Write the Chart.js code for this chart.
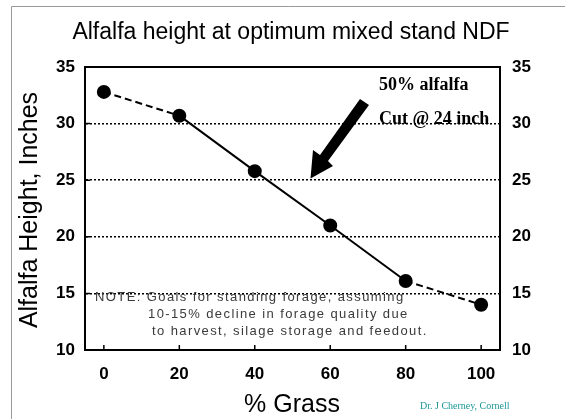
<!DOCTYPE html>
<html>
<head>
<meta charset="utf-8">
<script src="https://cdn.jsdelivr.net/npm/chart.js@4"></script>
<style>
  html, body { margin: 0; padding: 0; background: #fff; }
  #wrap { width: 565px; height: 419px; }
</style>
</head>
<body>
<div id="wrap"><canvas id="chart" width="565" height="419"></canvas></div>
<script>
// data
const grassPct = [0, 20, 40, 60, 80, 100];
const alfalfaHeight = [32.8, 30.7, 25.8, 21.0, 16.1, 14.0];
const xTicks = [0, 20, 40, 60, 80, 100];
const yTicks = [10, 15, 20, 25, 30, 35];
const dashedSegments = [0, 4]; // first and last segment are dashed

const tickFont = { family: "Liberation Sans", size: 17, weight: "bold" };

// extra drawing: titles, notes, arrow, frame, inner tick marks
const decorations = {
  id: "decorations",
  afterDraw(chart) {
    const ctx = chart.ctx;
    const area = chart.chartArea;
    const x = chart.scales.x;
    const y = chart.scales.y;
    ctx.save();

    // slide frame (top + left)
    ctx.strokeStyle = "#999";
    ctx.lineWidth = 1;
    ctx.beginPath();
    ctx.moveTo(11.5, 419);
    ctx.lineTo(11.5, 6.5);
    ctx.lineTo(565, 6.5);
    ctx.stroke();

    // top border of the plot box
    ctx.strokeStyle = "#000";
    ctx.lineWidth = 2;
    ctx.beginPath();
    ctx.moveTo(area.left - 1, area.top);
    ctx.lineTo(area.right + 1, area.top);
    ctx.stroke();

    // inner tick marks
    ctx.lineWidth = 1.5;
    ctx.beginPath();
    xTicks.forEach((v) => {
      const px = x.getPixelForValue(v);
      ctx.moveTo(px, area.bottom);
      ctx.lineTo(px, area.bottom - 5);
    });
    yTicks.slice(1, -1).forEach((v) => {
      const py = y.getPixelForValue(v);
      ctx.moveTo(area.left, py);
      ctx.lineTo(area.left + 5, py);
    });
    ctx.stroke();

    // titles
    ctx.fillStyle = "#000";
    ctx.textAlign = "center";
    ctx.textBaseline = "middle";
    ctx.font = "23px 'Liberation Sans'";
    ctx.fillText("Alfalfa height at optimum mixed stand NDF", 291, 33);
    ctx.font = "25px 'Liberation Sans'";
    ctx.fillText("% Grass", 292, 405);
    ctx.save();
    ctx.translate(30, 210);
    ctx.rotate(-Math.PI / 2);
    ctx.font = "25px 'Liberation Sans'";
    ctx.fillText("Alfalfa Height, Inches", 0, 0);
    ctx.restore();

    // annotation text
    ctx.textAlign = "left";
    ctx.font = "bold 18px 'Liberation Serif'";
    ctx.fillText("50% alfalfa", 379, 85);
    ctx.fillText("Cut @ 24 inch", 379, 119);

    // arrow
    ctx.beginPath();
    ctx.moveTo(369, 105);
    ctx.lineTo(360, 99);
    ctx.lineTo(320, 155);
    ctx.lineTo(313, 150);
    ctx.lineTo(310.5, 178.5);
    ctx.lineTo(333, 166);
    ctx.lineTo(328, 161);
    ctx.closePath();
    ctx.fill();

    // note
    ctx.fillStyle = "#3a3a3a";
    ctx.font = "13px 'Liberation Sans'";
    ctx.letterSpacing = "1.4px";
    ctx.fillText("NOTE: Goals for standing forage, assuming", 95, 297);
    ctx.fillText("10-15% decline in forage quality due", 148, 314);
    ctx.fillText("to harvest, silage storage and feedout.", 152, 331);
    ctx.letterSpacing = "0px";

    // credit
    ctx.fillStyle = "#1a9696";
    ctx.font = "10px 'Liberation Serif'";
    ctx.fillText("Dr. J Cherney, Cornell", 420, 406);

    ctx.restore();
  },
};

const gridColor = (c) =>
  c.tick && (c.tick.value === 10 || c.tick.value === 35) ? "rgba(0,0,0,0)" : "#000";

new Chart(document.getElementById("chart").getContext("2d"), {
  type: "line",
  data: {
    datasets: [
      {
        data: grassPct.map((g, i) => ({ x: g, y: alfalfaHeight[i] })),
        borderColor: "#000",
        backgroundColor: "#000",
        borderWidth: 2,
        pointRadius: 6,
        pointBackgroundColor: "#000",
        tension: 0,
        segment: {
          borderDash: (c) => (dashedSegments.includes(c.p0DataIndex) ? [7, 4] : undefined),
        },
      },
    ],
  },
  options: {
    responsive: false,
    animation: false,
    layout: { padding: { top: 67, left: 0, right: 0, bottom: 0 } },
    plugins: { legend: { display: false }, tooltip: { enabled: false }, title: { display: false } },
    scales: {
      x: {
        type: "linear",
        min: -5,
        max: 105,
        afterBuildTicks: (s) => { s.ticks = xTicks.map((v) => ({ value: v })); },
        afterFit: (s) => { s.height = 69; },
        grid: { display: false, drawTicks: false },
        border: { color: "#000", width: 2 },
        ticks: { color: "#000", font: tickFont, padding: 14 },
      },
      y: {
        min: 10,
        max: 35,
        afterBuildTicks: (s) => { s.ticks = yTicks.map((v) => ({ value: v })); },
        afterFit: (s) => { s.width = 85; },
        grid: { color: gridColor, lineWidth: 1.5, drawTicks: false },
        border: { color: "#000", width: 2, dash: [2, 2] },
        ticks: { color: "#000", font: tickFont, padding: 10 },
      },
      y2: {
        position: "right",
        min: 10,
        max: 35,
        afterBuildTicks: (s) => { s.ticks = yTicks.map((v) => ({ value: v })); },
        afterFit: (s) => { s.width = 65; },
        grid: { display: false, drawTicks: false },
        border: { color: "#000", width: 2 },
        ticks: { color: "#000", font: tickFont, padding: 12 },
      },
    },
  },
  plugins: [decorations],
});
</script>
</body>
</html>
